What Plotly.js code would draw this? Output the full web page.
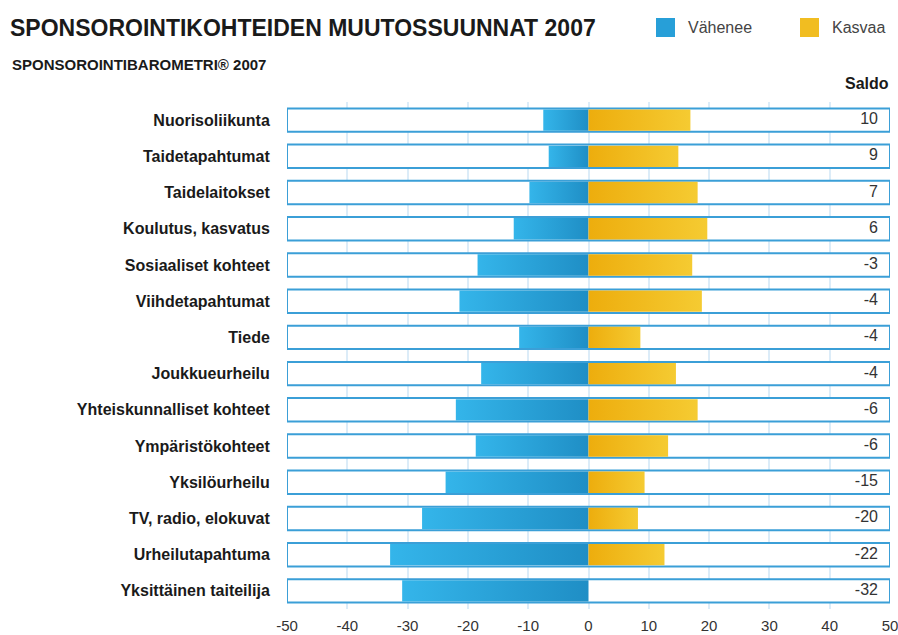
<!DOCTYPE html>
<html>
<head>
<meta charset="utf-8">
<script src="https://cdn.plot.ly/plotly-3.0.1.min.js"></script>
<style>html,body{margin:0;padding:0;background:#fff;}#chart{width:898px;height:635px;}</style>
</head>
<body>
<div id="chart"></div>
<script>
// ---- data ----
const categories = [
  "Nuorisoliikunta", "Taidetapahtumat", "Taidelaitokset", "Koulutus, kasvatus",
  "Sosiaaliset kohteet", "Viihdetapahtumat", "Tiede", "Joukkueurheilu",
  "Yhteiskunnalliset kohteet", "Ympäristökohteet", "Yksilöurheilu",
  "TV, radio, elokuvat", "Urheilutapahtuma", "Yksittäinen taiteilija"
];
const vahenee = [7.5, 6.6, 9.8, 12.4, 18.4, 21.4, 11.5, 17.8, 22.0, 18.7, 23.7, 27.6, 32.9, 30.9];
const kasvaa  = [16.9, 14.9, 18.1, 19.7, 17.2, 18.8, 8.6, 14.5, 18.1, 13.2, 9.3, 8.2, 12.6, 0];
const saldo   = [10, 9, 7, 6, -3, -4, -4, -4, -6, -6, -15, -20, -22, -32];
const xTicks  = [-50, -40, -30, -20, -10, 0, 10, 20, 30, 40, 50];
const seriesNames = ["Vähenee", "Kasvaa"];
const titleText = "SPONSOROINTIKOHTEIDEN MUUTOSSUUNNAT 2007";
const subtitleText = "SPONSOROINTIBAROMETRI® 2007";
const saldoHeader = "Saldo";

// ---- layout helpers ----
const W = 898, H = 635;
const M = {l: 287, r: 8, t: 102, b: 26};
const PW = W - M.l - M.r, PH = H - M.t - M.b;
const px = x => (x - M.l) / PW;
const py = y => (H - M.b - y) / PH;

const BLUE = '#279fd8', YELLOW = '#f1bd21', OUTLINE = '#3b9fd7';
const BLUE_SCALE = [[0, '#34b5ea'], [1, '#1f8ec5']];
const YELLOW_SCALE = [[0, '#edad0d'], [1, '#f5cb32']];
const FONT = '"Liberation Sans", Arial, sans-serif';
const boxW = 0.646, half = 0.295;
const xMin = -50, boxLen = 100;
const idx = categories.map((c, i) => i);

const traces = [
  { type: 'bar', orientation: 'h', y: idx, x: idx.map(() => boxLen), base: xMin,
    width: boxW, marker: {color: '#ffffff', line: {width: 2, color: OUTLINE}}, hoverinfo: 'skip', showlegend: false }
];

function barPoly(i, x0, x1, name, scale, color) {
  return {
    type: 'scatter', mode: 'lines', name: name, showlegend: false, hoverinfo: 'skip',
    x: [x0, x1, x1, x0, x0],
    y: [i - half, i - half, i + half, i + half, i - half],
    fill: 'toself', fillcolor: color, line: {width: 0, color: 'rgba(0,0,0,0)'},
    fillgradient: {type: 'horizontal', colorscale: scale}
  };
}
vahenee.forEach((v, i) => { if (v > 0) traces.push(barPoly(i, -v, 0, seriesNames[0], BLUE_SCALE, BLUE)); });
kasvaa.forEach((v, i) => { if (v > 0) traces.push(barPoly(i, 0, v, seriesNames[1], YELLOW_SCALE, YELLOW)); });

traces.push({ type: 'scatter', mode: 'text', y: idx, x: idx.map(() => 48.0), text: saldo.map(String),
  textposition: 'middle left', textfont: {family: FONT, size: 16, color: '#333'}, hoverinfo: 'skip', showlegend: false });

const layout = {
  width: W, height: H, margin: M,
  paper_bgcolor: '#fff', plot_bgcolor: '#fff',
  barmode: 'overlay', showlegend: false,
  font: {family: FONT, color: '#222'},
  title: {text: titleText, x: 10 / W, xanchor: 'left', xref: 'container',
          y: 1 - 28 / H, yanchor: 'middle', yref: 'container',
          font: {family: FONT, size: 23, weight: 'bold', color: '#1a1a1a'}},
  xaxis: {range: [-50, 50], tickvals: xTicks, ticktext: xTicks.map(String), showgrid: true,
          gridcolor: '#dcecf8', gridwidth: 2, zeroline: false, showline: false,
          ticks: 'outside', ticklen: 3, tickcolor: 'rgba(0,0,0,0)', ticklabeloverflow: 'allow',
          tickfont: {family: FONT, size: 15, color: '#333'}, fixedrange: true},
  yaxis: {range: [13.5, -0.5], tickvals: idx, ticktext: categories, showgrid: false,
          zeroline: false, showline: false, ticks: 'outside', ticklen: 13, tickcolor: 'rgba(0,0,0,0)',
          tickfont: {family: FONT, size: 16, weight: 'bold', color: '#1a1a1a'}, fixedrange: true},
  shapes: [
    {type: 'rect', xref: 'paper', yref: 'paper', x0: px(656), x1: px(675), y0: py(37), y1: py(18),
     fillcolor: BLUE, line: {width: 0}},
    {type: 'rect', xref: 'paper', yref: 'paper', x0: px(800), x1: px(819), y0: py(37), y1: py(18),
     fillcolor: YELLOW, line: {width: 0}}
  ],
  annotations: [
    {xref: 'paper', yref: 'paper', x: px(10), y: py(64), xanchor: 'left', yanchor: 'middle', showarrow: false,
     text: subtitleText, font: {family: FONT, size: 15, weight: 'bold', color: '#1a1a1a'}},
    {xref: 'paper', yref: 'paper', x: px(686), y: py(28), xanchor: 'left', yanchor: 'middle', showarrow: false,
     text: seriesNames[0], font: {family: FONT, size: 16, color: '#444'}},
    {xref: 'paper', yref: 'paper', x: px(830), y: py(28), xanchor: 'left', yanchor: 'middle', showarrow: false,
     text: seriesNames[1], font: {family: FONT, size: 16, color: '#444'}},
    {xref: 'paper', yref: 'paper', x: px(867), y: py(83), xanchor: 'center', yanchor: 'middle', showarrow: false,
     text: saldoHeader, font: {family: FONT, size: 16, weight: 'bold', color: '#1a1a1a'}}
  ]
};

Plotly.newPlot('chart', traces, layout, {staticPlot: true, displayModeBar: false});
</script>
</body>
</html>
